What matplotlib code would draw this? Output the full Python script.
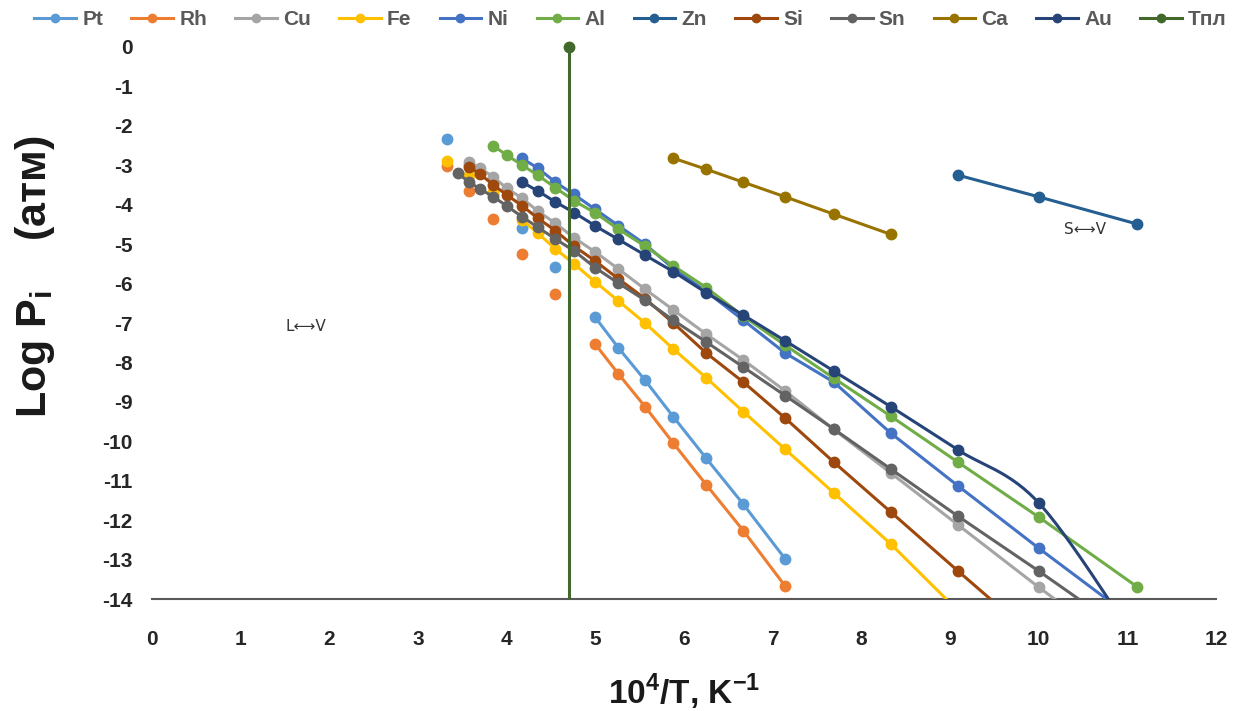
import numpy as np
import matplotlib
matplotlib.use("Agg")
import matplotlib.pyplot as plt
from matplotlib.lines import Line2D

nan = np.nan
# shared x grid: 10^4/T
X = [3.33, 3.45, 3.57, 3.70, 3.85, 4.00, 4.17, 4.35, 4.55, 4.76, 5.00, 5.26,
     5.56, 5.88, 6.25, 6.67, 7.14, 7.69, 8.33, 9.09, 10.00, 11.11]

Pt = [-2.34, nan, -3.0, nan, -3.72, nan, -4.6, nan, -5.58, nan, -6.86, -7.63,
      -8.45, -9.38, -10.43, -11.6, -12.98, nan, nan, nan, nan, nan]
Rh = [-3.02, nan, -3.65, nan, -4.37, nan, -5.25, nan, -6.26, nan, -7.54, -8.29,
      -9.12, -10.05, -11.1, -12.27, -13.67, nan, nan, nan, nan, nan]
Cu = [nan, nan, -2.92, -3.07, -3.3, -3.58, -3.83, -4.16, -4.47, -4.84, -5.2, -5.63,
      -6.14, -6.67, -7.28, -7.94, -8.72, -9.7, -10.8, -12.12, -13.7, -15.55]
Fe = [-2.89, nan, -3.25, nan, -3.68, nan, -4.38, -4.72, -5.12, -5.5, -5.96, -6.44,
      -7.0, -7.66, -8.39, -9.25, -10.2, -11.31, -12.6, -14.3, nan, nan]
Ni = [nan, nan, nan, nan, nan, nan, -2.82, -3.07, -3.43, -3.74, -4.12, -4.53,
      -5.0, -5.62, -6.2, -6.93, -7.76, -8.5, -9.79, -11.13, -12.71, -14.58]
Al = [nan, nan, nan, nan, -2.51, -2.74, -2.99, -3.25, -3.57, -3.9, -4.21, -4.62,
      -5.05, -5.55, -6.1, -6.83, -7.56, -8.4, -9.36, -10.53, -11.92, -13.69]
Zn = [nan] * 19 + [-3.25, -3.8, -4.49]
Si = [nan, nan, -3.04, -3.22, -3.5, -3.75, -4.02, -4.34, -4.66, -5.05, -5.43, -5.88,
      -6.38, -7.0, -7.76, -8.5, -9.41, -10.53, -11.79, -13.29, -15.06, nan]
Sn = [nan, -3.2, -3.42, -3.6, -3.8, -4.03, -4.3, -4.57, -4.87, -5.17, -5.6, -5.99,
      -6.42, -6.93, -7.48, -8.12, -8.84, -9.69, -10.7, -11.9, -13.29, -15.04]
Ca = [nan] * 13 + [-2.82, -3.1, -3.43, -3.8, -4.24, -4.75] + [nan] * 3
Au = [nan, nan, nan, nan, nan, nan, -3.42, -3.65, -3.93, -4.2, -4.54, -4.88,
      -5.28, -5.7, -6.23, -6.8, -7.45, -8.22, -9.12, -10.22, -11.56, -15.1]
Tpl_x = [4.70, 4.70]
Tpl_y = [0.0, -14.0]

names = ["Pt", "Rh", "Cu", "Fe", "Ni", "Al", "Zn", "Si", "Sn", "Ca", "Au", "Tпл"]
series = [Pt, Rh, Cu, Fe, Ni, Al, Zn, Si, Sn, Ca, Au]
colors = ["#5B9BD5", "#ED7D31", "#A5A5A5", "#FFC000", "#4472C4", "#70AD47",
          "#255E91", "#9E480E", "#636363", "#997300", "#264478", "#43682B"]
smooth = {"Au"}

FONT = ["Liberation Sans", "DejaVu Sans"]
plt.rcParams["font.family"] = FONT
plt.rcParams["axes.unicode_minus"] = False
plt.rcParams["mathtext.fontset"] = "custom"
plt.rcParams["mathtext.rm"] = "Liberation Sans"
plt.rcParams["mathtext.bf"] = "Liberation Sans:bold"

LW = 2.2
MS = 7.5


def excel_smooth(xs, ys, n=30):
    pts = np.column_stack([xs, ys])
    out = []
    m = len(pts)
    for i in range(m - 1):
        p0 = pts[i - 1] if i > 0 else pts[i]
        p1 = pts[i]
        p2 = pts[i + 1]
        p3 = pts[i + 2] if i + 2 < m else pts[i + 1]
        c1 = p1 + (p2 - p0) / 6.0
        c2 = p2 - (p3 - p1) / 6.0
        t = np.linspace(0, 1, n)[:, None]
        seg = ((1 - t) ** 3) * p1 + 3 * ((1 - t) ** 2) * t * c1 + 3 * (1 - t) * t ** 2 * c2 + t ** 3 * p2
        out.append(seg if i == 0 else seg[1:])
    s = np.vstack(out)
    return s[:, 0], s[:, 1]


fig = plt.figure(figsize=(12.49, 7.11), dpi=100)
ax = fig.add_axes([0.1217, 0.1575, 0.8519, 0.7764])

xa = np.array(X)
for name, ys, col in zip(names, series, colors):
    ya = np.array(ys, dtype=float)
    if name in smooth:
        ok = ~np.isnan(ya)
        sx, sy = excel_smooth(xa[ok], ya[ok])
        ax.plot(sx, sy, color=col, lw=LW, zorder=3)
        ax.plot(xa[ok], ya[ok], "o", color=col, ms=MS, zorder=3)
    else:
        ax.plot(xa, ya, "-o", color=col, lw=LW, ms=MS, zorder=3)

ax.plot(Tpl_x, Tpl_y, "-", color=colors[-1], lw=LW, zorder=4)
ax.plot(Tpl_x[:1], Tpl_y[:1], "o", color=colors[-1], ms=MS, zorder=5, clip_on=False)

ax.text(1.73, -7.1, "L⟷V", fontsize=11, ha="center", va="center",
        family=["DejaVu Sans"], color="#333333")
ax.text(10.52, -4.64, "S⟷V", fontsize=11, ha="center", va="center",
        family=["DejaVu Sans"], color="#333333")

ax.set_xlim(0, 12)
ax.set_ylim(-14, 0)
ax.set_xticks(range(0, 13))
ax.set_yticks(range(-14, 1))
ax.tick_params(axis="x", length=0, labelsize=15, pad=22)
ax.tick_params(axis="y", length=0, labelsize=15, pad=14)
for lab in ax.get_xticklabels() + ax.get_yticklabels():
    lab.set_fontweight("bold")
    lab.set_color("#262626")
for s in ["top", "right", "left"]:
    ax.spines[s].set_visible(False)
ax.spines["bottom"].set_color("#595959")
ax.spines["bottom"].set_linewidth(1.5)

ax.set_xlabel(r"10$^{\mathbf{4}}$/T, K$^{\mathbf{-1}}$", fontsize=24, fontweight="bold",
              labelpad=17, color="#1a1a1a")
ax.set_ylabel(r"Log P$_{\mathbf{i}}$    (атм)", fontsize=31, fontweight="bold",
              color="#1a1a1a")
ax.yaxis.set_label_coords(-0.089, 0.583)

handles = [Line2D([0], [0], color=c, lw=LW, marker="o", ms=MS * 0.8) for c in colors]
leg = fig.legend(handles, names, loc="upper center", bbox_to_anchor=(0.505, 1.012),
                 ncol=12, frameon=False, handlelength=2.0, handletextpad=0.3,
                 columnspacing=1.35, numpoints=1,
                 prop={"family": FONT, "weight": "bold", "size": 15})
for t in leg.get_texts():
    t.set_color("#595959")

fig.savefig("out.png", dpi=100)
